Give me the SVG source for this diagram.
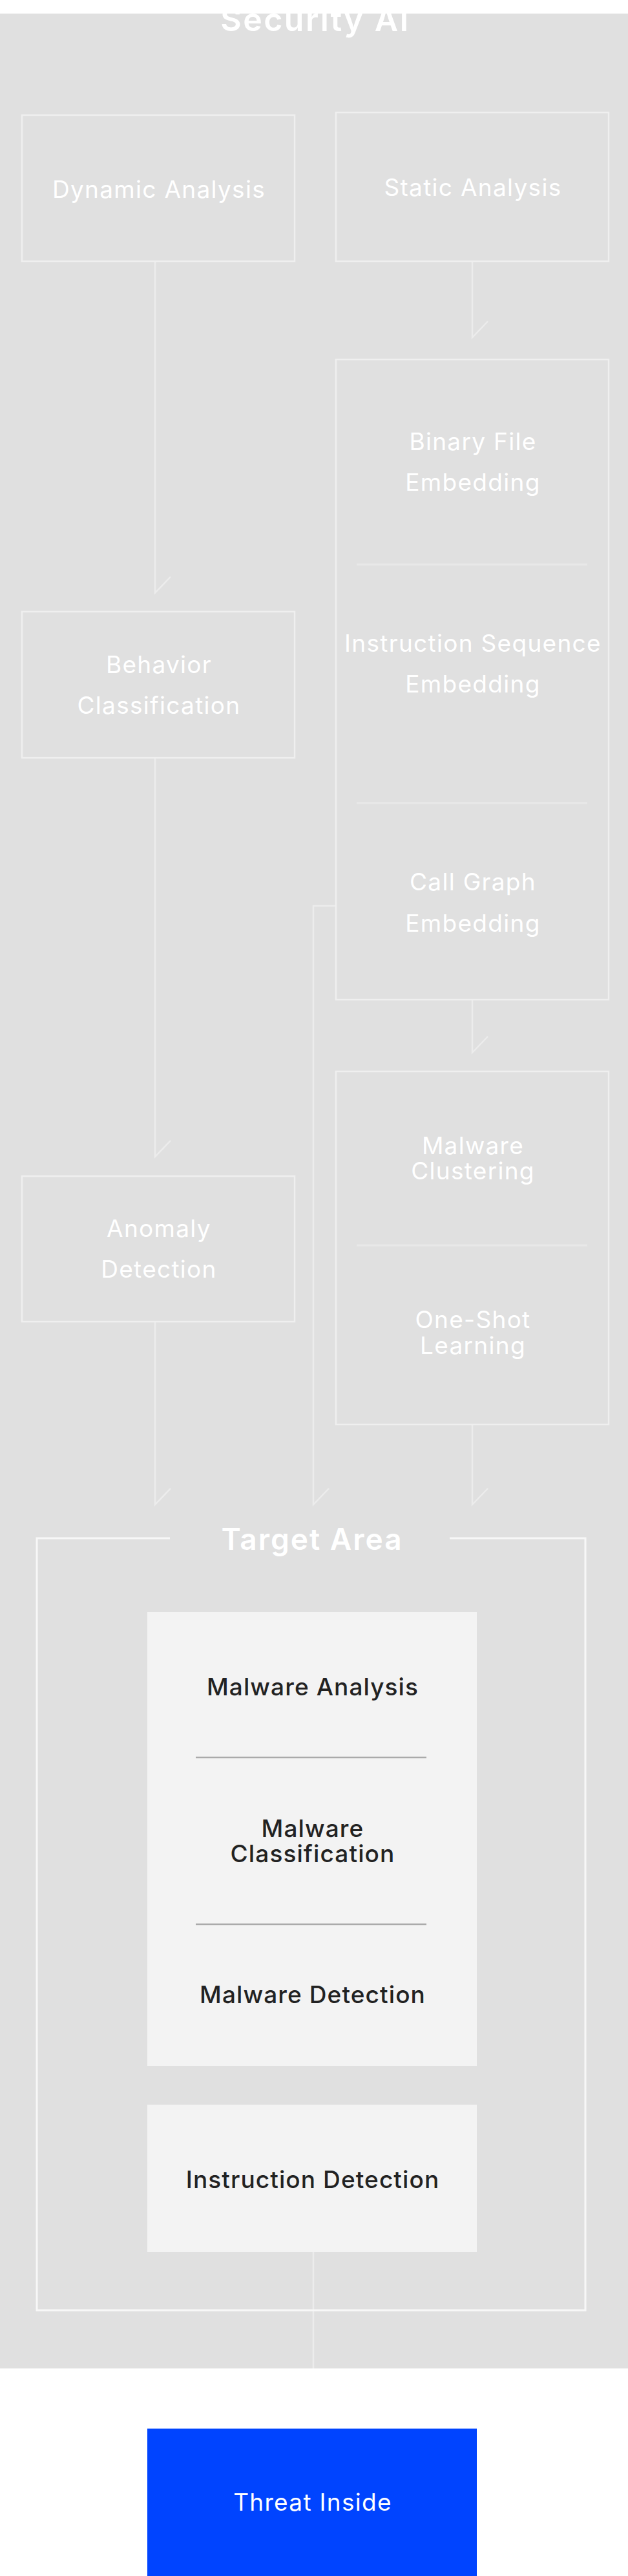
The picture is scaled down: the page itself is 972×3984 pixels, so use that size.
<svg xmlns="http://www.w3.org/2000/svg" width="972" height="3984" viewBox="0 0 972 3984">
<style>
.node{fill:none;stroke:#efefef;stroke-width:2.5}
.div{stroke:#e8e8e8;stroke-width:3}
.div2{stroke:#aaaaaa;stroke-width:2.5}
.con{fill:none;stroke:#ececec;stroke-width:2.5}
.lt{font-family:Inter,"Noto Sans",sans-serif;font-size:37px;letter-spacing:1.3px;fill:#ffffff;text-anchor:middle}
.dk{font-family:Inter,"Noto Sans",sans-serif;font-size:37px;font-weight:500;letter-spacing:1.1px;fill:#222222;text-anchor:middle}
.hd{font-family:Inter,"Noto Sans",sans-serif;font-weight:600;fill:#ffffff;text-anchor:middle}
.inner{fill:#f3f3f3}
</style>
<rect x="0" y="0" width="972" height="3984" fill="#ffffff"/>
<rect x="0" y="21" width="972" height="3642" fill="#e0e0e0"/>
<text class="hd" x="488" y="48" style="font-size:50px;letter-spacing:2.5px">Security AI</text>
<rect x="0" y="0" width="972" height="21" fill="#ffffff"/>

<g id="connectors">
<path class="con" d="M240,404 V917 l24,-25"/>
<path class="con" d="M731,404 V522 l24,-25"/>
<path class="con" d="M731,1546 V1628 l24,-25"/>
<path class="con" d="M240,1172 V1789 l24,-25"/>
<path class="con" d="M240,2044 V2327 l24,-25"/>
<path class="con" d="M520,1401 H485 V2327 l24,-25"/>
<path class="con" d="M731,2203 V2327 l24,-25"/>
<path class="con" d="M485,3483 V3663"/>
</g>

<g id="dynamic-analysis">
<rect class="node" x="34" y="178" width="422" height="226"/>
<text class="lt" x="246" y="306">Dynamic Analysis</text>
</g>
<g id="static-analysis">
<rect class="node" x="520" y="174" width="422" height="230"/>
<text class="lt" x="732" y="303">Static Analysis</text>
</g>
<g id="embeddings">
<rect class="node" x="520" y="556" width="422" height="990"/>
<line class="div" x1="552" y1="873" x2="909" y2="873"/>
<line class="div" x1="552" y1="1242" x2="909" y2="1242"/>
<text class="lt" x="732" y="696">Binary File</text>
<text class="lt" x="732" y="759">Embedding</text>
<text class="lt" x="732" y="1008">Instruction Sequence</text>
<text class="lt" x="732" y="1071">Embedding</text>
<text class="lt" x="732" y="1377">Call Graph</text>
<text class="lt" x="732" y="1441">Embedding</text>
</g>
<g id="behavior-classification">
<rect class="node" x="34" y="946" width="422" height="226"/>
<text class="lt" x="246" y="1041">Behavior</text>
<text class="lt" x="246" y="1104">Classification</text>
</g>
<g id="anomaly-detection">
<rect class="node" x="34" y="1819" width="422" height="225"/>
<text class="lt" x="246" y="1913">Anomaly</text>
<text class="lt" x="246" y="1976">Detection</text>
</g>
<g id="clustering-learning">
<rect class="node" x="520" y="1657" width="422" height="546"/>
<line class="div" x1="552" y1="1926" x2="909" y2="1926"/>
<text class="lt" x="732" y="1785">Malware</text>
<text class="lt" x="732" y="1824">Clustering</text>
<text class="lt" x="732" y="2054">One-Shot</text>
<text class="lt" x="732" y="2094">Learning</text>
</g>
<g id="target-area">
<path fill="none" stroke="#f7f7f7" stroke-width="3" d="M263,2379 H57 V3573 H906 V2379 H696"/>
<text class="hd" x="483" y="2397" style="font-size:46px;letter-spacing:2px">Target Area</text>
</g>
<g id="malware-tasks">
<rect class="inner" x="228" y="2493" width="510" height="702"/>
<text class="dk" x="484" y="2622">Malware Analysis</text>
<line class="div2" x1="303" y1="2718" x2="660" y2="2718"/>
<text class="dk" x="484" y="2841">Malware</text>
<text class="dk" x="484" y="2880">Classification</text>
<line class="div2" x1="303" y1="2976" x2="660" y2="2976"/>
<text class="dk" x="484" y="3098">Malware Detection</text>
</g>
<g id="instruction-detection">
<rect class="inner" x="228" y="3255" width="510" height="228"/>
<text class="dk" x="484" y="3384">Instruction Detection</text>
</g>
<g id="threat-inside">
<rect x="228" y="3756" width="510" height="228" fill="#0044ff"/>
<text class="lt" x="484" y="3883">Threat Inside</text>
</g>
</svg>
